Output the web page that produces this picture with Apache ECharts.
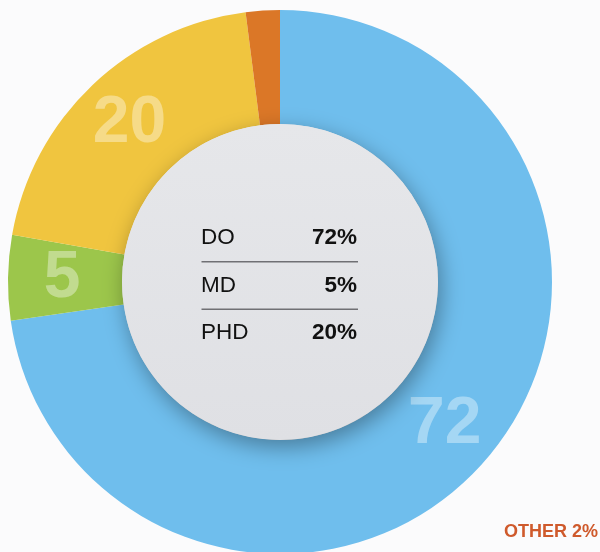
<!DOCTYPE html>
<html>
<head>
<meta charset="utf-8">
<script src="https://cdn.jsdelivr.net/npm/echarts@6/dist/echarts.min.js"></script>
<style>
html,body{margin:0;padding:0;background:#fbfbfc;}
#c{width:600px;height:552px;}
</style>
</head>
<body>
<div id="c"></div>
<script>
var categories = ['DO', 'MD', 'PHD', 'OTHER'];
var values = [72, 5, 20, 2];
var ringOrder = ['DO', 'MD', 'PHD', 'OTHER'];
var colors = {DO: '#6fbeed', MD: '#9cc64b', PHD: '#f0c53f', OTHER: '#db7727'};
var tableRows = ['DO', 'MD', 'PHD'];

var chart = echarts.init(document.getElementById('c'));
var cx = 280, cy = 282, rIn = 158, rOut = 272;

function val(name) { return values[categories.indexOf(name)]; }

var pieData = ringOrder.map(function (n) {
  return {
    name: n,
    value: val(n),
    itemStyle: {color: colors[n]},
    label: {show: n !== 'OTHER'}
  };
});

var graphics = [];
graphics.push({
  type: 'circle', z: 10,
  shape: {cx: cx, cy: cy, r: rIn},
  style: {
    fill: new echarts.graphic.LinearGradient(0, 0, 0, 1, [
      {offset: 0, color: '#e6e7ea'}, {offset: 1, color: '#dfe0e4'}
    ]),
    shadowBlur: 22, shadowOffsetX: 3, shadowOffsetY: 7, shadowColor: 'rgba(0,0,0,0.35)'
  }
});
var rowY = [238, 285.5, 332.5];
tableRows.forEach(function (n, i) {
  graphics.push({
    type: 'text', z: 11, x: 201, y: rowY[i],
    style: {text: n, font: '22.5px "Liberation Sans", Arial, sans-serif', fill: '#111',
      textAlign: 'left', textVerticalAlign: 'middle'}
  });
  graphics.push({
    type: 'text', z: 11, x: 357, y: rowY[i],
    style: {text: val(n) + '%', font: 'bold 22.5px "Liberation Sans", Arial, sans-serif', fill: '#111',
      textAlign: 'right', textVerticalAlign: 'middle'}
  });
});
[261.7, 309.3].forEach(function (y) {
  graphics.push({
    type: 'line', z: 11,
    shape: {x1: 201.5, y1: y, x2: 358, y2: y},
    style: {stroke: '#707074', lineWidth: 1.5}
  });
});
graphics.push({
  type: 'text', z: 11, x: 598, y: 532,
  style: {
    text: '{a|OTHER }{b|' + val('OTHER') + '%}',
    rich: {
      a: {fontSize: 18, fontFamily: 'Liberation Sans', fill: '#cf5a2c', fontWeight: 'bold'},
      b: {fontSize: 18, fontFamily: 'Liberation Sans', fill: '#cf5a2c', fontWeight: 'bold'}
    },
    textAlign: 'right', textVerticalAlign: 'middle'
  }
});

chart.setOption({
  backgroundColor: '#fbfbfc',
  animation: false,
  series: [{
    type: 'pie',
    center: [cx, cy],
    radius: [rIn, rOut],
    startAngle: 90,
    clockwise: true,
    silent: true,
    label: {
      show: true,
      position: 'inside',
      formatter: '{c}',
      fontSize: 66,
      fontWeight: 'bold',
      fontFamily: 'Liberation Sans',
      color: 'rgba(255,255,255,0.38)'
    },
    labelLine: {show: false},
    data: pieData
  }],
  graphic: graphics
});
</script>
</body>
</html>
